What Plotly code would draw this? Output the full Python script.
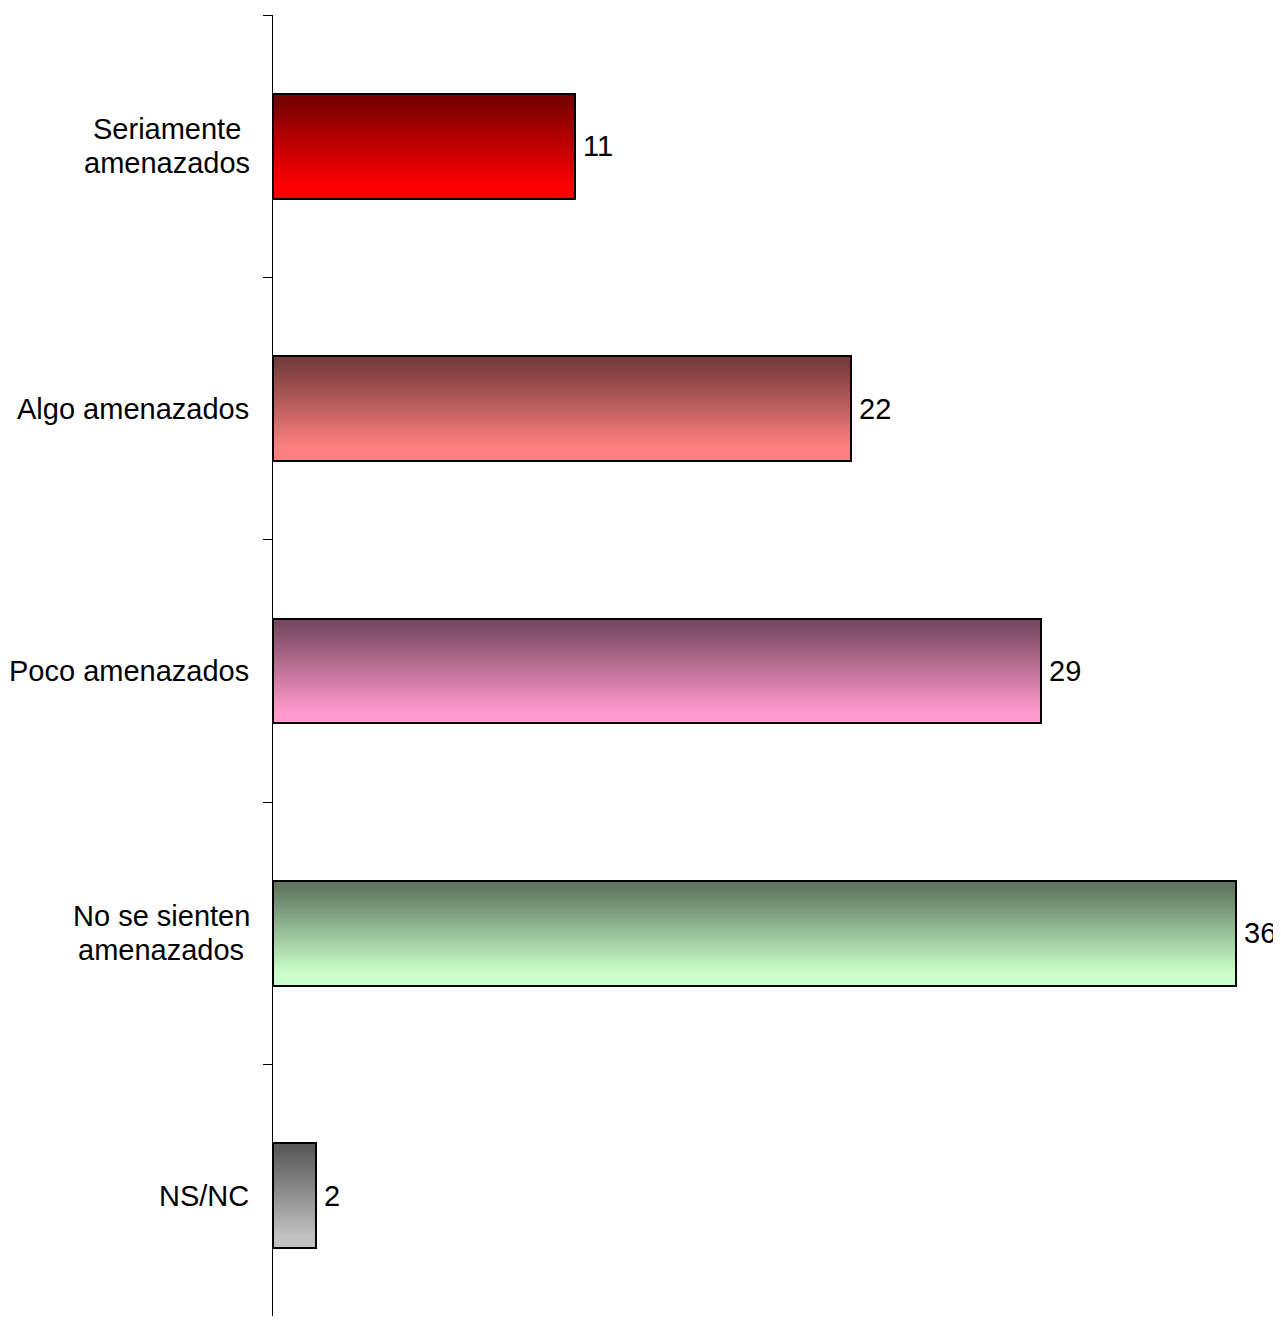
import plotly.graph_objects as go

categories = ["Seriamente<br>amenazados", "Algo amenazados", "Poco amenazados",
              "No se sienten<br>amenazados", "NS/NC"]
values = [11.3, 21.6, 28.7, 36.0, 1.6]
light_colors = ["#ff0000", "#ff8080", "#ff99cc", "#ccffcc", "#c0c0c0"]
dark_factor = 0.47

BAR_W = 0.4
N_SLICES = 53
FONT = "Liberation Sans, Arial, sans-serif"
FS = 29
LINE_H = 34
LABEL_GAP = 22

# approximate Arial advance widths (per 1000 em) for text-block centring
ARIAL_W = {"N": 722, "o": 556, " ": 278, "s": 500, "e": 556, "i": 222, "n": 556,
           "t": 278, "S": 667, "r": 333, "a": 556, "m": 833, "z": 500, "d": 556}


def text_w(s):
    return sum(ARIAL_W.get(ch, 556) for ch in s) / 1000 * FS


def hex_to_rgb(h):
    h = h.lstrip("#")
    return [int(h[i:i + 2], 16) for i in (0, 2, 4)]


def mix(c1, c2, t):
    return "rgb(%d,%d,%d)" % tuple(round(a + (b - a) * t) for a, b in zip(c1, c2))


def profile(t):
    # dark at top, light at bottom
    lo, hi = 0.06, 0.88
    if t <= lo:
        return 0.0
    if t >= hi:
        return 1.0
    return (t - lo) / (hi - lo)


positions = list(range(len(categories)))
fig = go.Figure()

sw = BAR_W / N_SLICES
for k in range(N_SLICES):
    t = profile((k + 0.5) / N_SLICES)
    cols = []
    for lc in light_colors:
        l = hex_to_rgb(lc)
        d = [c * dark_factor for c in l]
        cols.append(mix(d, l, t))
    fig.add_trace(go.Bar(
        x=values, y=positions, orientation="h",
        width=sw * 1.35, offset=-BAR_W / 2 + k * sw,
        marker=dict(color=cols, line=dict(width=0)),
        hoverinfo="skip", showlegend=False,
    ))

# outline
fig.add_trace(go.Bar(
    x=values, y=positions, orientation="h",
    width=BAR_W, offset=-BAR_W / 2,
    marker=dict(color="rgba(0,0,0,0)", line=dict(color="black", width=2)),
    hoverinfo="skip", showlegend=False,
))

annotations = []
for p, c, v in zip(positions, categories, values):
    lines = c.split("<br>")
    n = len(lines)
    block_w = max(text_w(ln) for ln in lines)
    for j, ln in enumerate(lines):
        annotations.append(dict(x=0, y=p, xref="x", yref="y", text=ln, showarrow=False,
                                xanchor="right" if n == 1 else "center",
                                yanchor="middle",
                                xshift=-LABEL_GAP if n == 1 else -(LABEL_GAP + 1 + block_w / 2),
                                yshift=((n - 1) / 2 - j) * LINE_H,
                                font=dict(family=FONT, size=FS, color="black")))
    annotations.append(dict(x=v, y=p, xref="x", yref="y", text="%.0f" % v, showarrow=False,
                            xanchor="left", yanchor="middle", xshift=6,
                            font=dict(family=FONT, size=FS, color="black")))

fig.update_layout(
    width=1273, height=1308,
    margin=dict(l=265, r=5, t=7, b=0),
    paper_bgcolor="white", plot_bgcolor="white",
    barmode="overlay", bargap=0,
    annotations=annotations,
    xaxis=dict(visible=False, range=[0, 37.5], fixedrange=True),
    yaxis=dict(range=[4.458, -0.5], showticklabels=False, showgrid=False, zeroline=False,
               tickmode="array", tickvals=[-0.5, 0.5, 1.5, 2.5, 3.5, 4.5],
               ticks="outside", ticklen=9, tickcolor="black", tickwidth=1,
               showline=True, linecolor="black", linewidth=1),
)

fig.write_html("out.html")
